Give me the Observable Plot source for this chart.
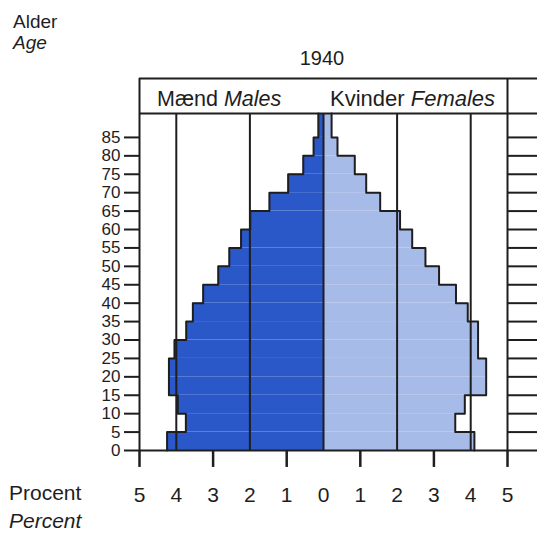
<!DOCTYPE html>
<html>
<head>
<meta charset="utf-8">
<script src="https://cdn.jsdelivr.net/npm/d3@7"></script>
<script src="https://cdn.jsdelivr.net/npm/@observablehq/plot@0.6"></script>
<style>
  html, body { margin: 0; padding: 0; background: #fff; }
  #chart { width: 537px; height: 537px; }
</style>
</head>
<body>
<div id="chart"></div>
<script>
// ---- data (percent of total population, Denmark 1940) ----
const ageGroups = ["0-4","5-9","10-14","15-19","20-24","25-29","30-34","35-39","40-44","45-49","50-54","55-59","60-64","65-69","70-74","75-79","80-84","85+"];
const ageStart  = [0,5,10,15,20,25,30,35,40,45,50,55,60,65,70,75,80,85];
const males     = [4.25,3.74,3.96,4.2,4.2,4.05,3.73,3.55,3.27,2.86,2.56,2.24,1.99,1.47,0.96,0.55,0.27,0.14];
const females   = [4.1,3.58,3.84,4.42,4.42,4.2,4.2,3.92,3.6,3.14,2.77,2.41,2.08,1.54,1.16,0.85,0.38,0.22];
const yTicks    = [0,5,10,15,20,25,30,35,40,45,50,55,60,65,70,75,80,85];
const rightTicks = [5,10,15,20,25,30,35,40,45,50,55,60,65,70,75,80,85];
const xTickMarks = [-5,-3,-1,1,3,5];
const xLabels   = [-5,-4,-3,-2,-1,0,1,2,3,4,5];
const gridX     = [-4,-2,0,2,4];

// frame constants (in data units)
const X_MIN = -5, X_MAX = 5, X_EXT = 5.815;
const TOP_BAR = 91.5, HEADER_TOP = 101, TICK_BOTTOM = -4.6;

const rows = ageStart.map((a, i) => ({
  group: ageGroups[i],
  start: a,
  end: i < ageStart.length - 1 ? ageStart[i + 1] : TOP_BAR,
  male: males[i],
  female: females[i]
}));

// step outline points derived from the data
const maleOutline = [];
const femaleOutline = [];
for (let i = rows.length - 1; i >= 0; i--) {
  const r = rows[i];
  maleOutline.push({x: -r.male, y: r.end}, {x: -r.male, y: r.start});
  femaleOutline.push({x: r.female, y: r.end}, {x: r.female, y: r.start});
}

const INK = "#1e1e1e";
const MALE = "#2a58c9";
const FEMALE = "#a7bbe8";
const FONT = "'Liberation Sans', Arial, Helvetica, sans-serif";

const chart = Plot.plot({
  width: 537,
  height: 537,
  marginLeft: 139,
  marginRight: 0,
  marginTop: 78,
  marginBottom: 87,
  style: {fontFamily: FONT, color: INK, background: "#fff", overflow: "visible"},
  x: {domain: [X_MIN, X_EXT], axis: null},
  y: {domain: [0, HEADER_TOP], axis: null},
  marks: [
    Plot.rect(rows, {x1: 0, x2: d => -d.male, y1: "start", y2: "end", fill: MALE}),
    Plot.rect(rows, {x1: 0, x2: "female", y1: "start", y2: "end", fill: FEMALE}),
    Plot.ruleX(gridX, {y1: 0, y2: TOP_BAR, stroke: INK, strokeWidth: 2}),
    Plot.line(maleOutline, {x: "x", y: "y", stroke: INK, strokeWidth: 2}),
    Plot.line(femaleOutline, {x: "x", y: "y", stroke: INK, strokeWidth: 2}),
    Plot.ruleY([TOP_BAR, HEADER_TOP], {x1: X_MIN, x2: X_EXT, stroke: INK, strokeWidth: 2}),
    Plot.ruleY([0], {x1: X_MIN, x2: X_EXT, stroke: INK, strokeWidth: 2}),
    Plot.ruleX([X_MIN, X_MAX], {y1: 0, y2: HEADER_TOP, stroke: INK, strokeWidth: 2}),
    Plot.ruleY(rightTicks, {x1: X_MAX, x2: X_EXT, stroke: INK, strokeWidth: 2}),
    // bottom tick marks (odd percents), extending below the baseline
    Plot.ruleX(xTickMarks, {y1: TICK_BOTTOM, y2: 0, stroke: INK, strokeWidth: 2.5}),
    Plot.axisY(yTicks, {anchor: "left", tickSize: 15, tickPadding: 4, fontSize: 17, strokeWidth: 2, label: null}),
    Plot.axisX(xLabels, {anchor: "bottom", tickSize: 0, tickPadding: 37, fontSize: 21, tickFormat: d => Math.abs(d), label: null})
  ]
});

document.getElementById("chart").appendChild(chart);

// annotation texts
const svg = d3.select(chart);
function addText(x, y, parts, opts = {}) {
  const t = svg.append("text")
    .attr("x", x).attr("y", y)
    .attr("font-family", FONT)
    .attr("font-size", opts.size || 21)
    .attr("fill", INK)
    .attr("text-anchor", opts.anchor || "start");
  parts.forEach(p => {
    t.append("tspan").attr("font-style", p.italic ? "italic" : "normal").text(p.text);
  });
}
addText(13, 27.5, [{text: "Alder"}], {size: 19});
addText(13, 49, [{text: "Age", italic: true}], {size: 19});
addText(322, 64.5, [{text: "1940"}], {anchor: "middle", size: 20});
addText(157, 106, [{text: "Mænd "}, {text: "Males", italic: true}], {size: 21.5});
addText(330, 106, [{text: "Kvinder "}, {text: "Females", italic: true}], {size: 22});
addText(9, 500, [{text: "Procent"}]);
addText(9, 528, [{text: "Percent", italic: true}]);
</script>
</body>
</html>
